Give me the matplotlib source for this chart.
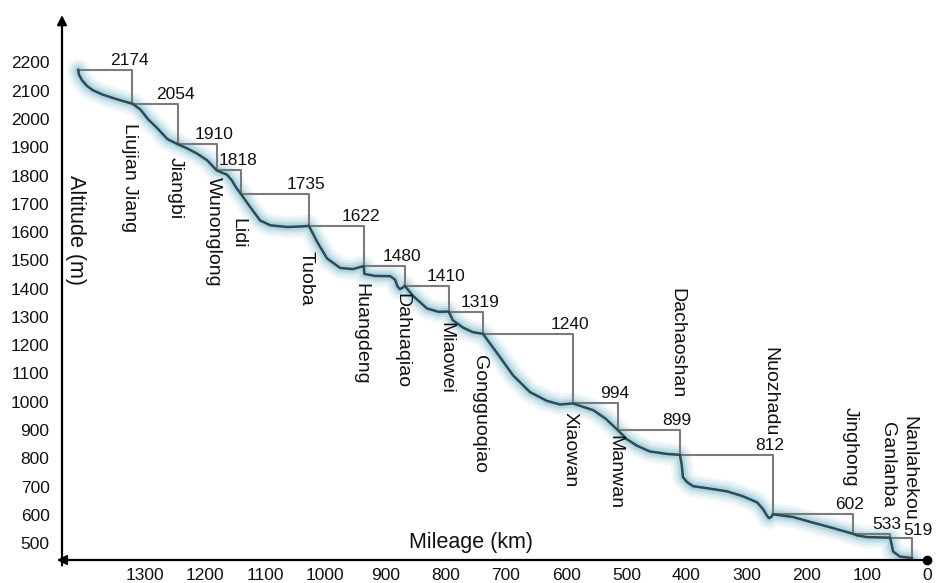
import numpy as np
import matplotlib
matplotlib.use("Agg")
import matplotlib.pyplot as plt

plt.rcParams['font.family'] = ['Liberation Sans', 'DejaVu Sans']

# dams, upstream -> downstream
dams = ['Liujian Jiang', 'Jiangbi', 'Wunonglong', 'Lidi', 'Tuoba', 'Huangdeng',
        'Dahuaqiao', 'Miaowei', 'Gongguoqiao', 'Xiaowan', 'Manwan', 'Dachaoshan',
        'Nuozhadu', 'Jinghong', 'Ganlanba', 'Nanlahekou']
dam_km = [1320, 1244, 1180, 1140, 1027, 936, 868, 795, 738, 589, 514, 411, 257, 124, 62, 26]
levels = [2174, 2054, 1910, 1818, 1735, 1622, 1480, 1410, 1319, 1240, 994, 899, 812, 602, 533, 519]

# river bed profile (km, altitude)
river_km = [1410, 1409, 1404, 1396, 1386, 1369, 1346, 1320,
            1307, 1294, 1279, 1262, 1244,
            1229, 1213, 1196, 1180,
            1163, 1155, 1148, 1140,
            1124, 1108, 1091, 1063, 1040, 1027,
            1013, 997, 975, 954, 936,
            935, 917, 892, 884, 880, 876, 871, 868,
            854, 831, 812, 795,
            788, 771, 755, 738,
            715, 688, 660, 632, 610, 589,
            555, 535, 514,
            499, 482, 461, 432, 411,
            408, 406, 399, 389, 366, 333, 307, 283, 273, 266, 263, 258, 257,
            223, 190, 157, 124,
            117, 100, 62,
            57, 46, 26]
river_alt = [2174, 2158, 2138, 2118, 2102, 2086, 2070, 2054,
             2034, 1999, 1968, 1929, 1910,
             1896, 1878, 1854, 1818,
             1803, 1783, 1758, 1735,
             1687, 1641, 1624, 1618, 1620, 1622,
             1564, 1507, 1473, 1469, 1480,
             1452, 1445, 1444, 1432, 1408, 1398, 1404, 1410,
             1374, 1330, 1318, 1319,
             1288, 1262, 1246, 1240,
             1173, 1093, 1034, 1003, 990, 994,
             970, 941, 899,
             867, 844, 824, 815, 812,
             776, 733, 715, 701, 694, 683, 666, 644, 620, 595, 588, 595, 602,
             592, 572, 553, 533,
             527, 521, 519,
             470, 452, 447]

x_ticks = list(range(0, 1301, 100))
y_ticks = list(range(500, 2201, 100))

# label layout (name top altitude)
name_top = [1986, 1866, 1795, 1650, 1533, 1420, 1385, 1282, 1165, 964, 882,
            1402, 1194, 982, 928, 949]

fig = plt.figure(figsize=(9.4, 5.83), dpi=100)
ax = fig.add_axes([62 / 940, 23 / 583, 873 / 940, 545 / 583])
ax.set_xlim(1437, -12.5)
ax.set_ylim(440, 2368)
for s in ax.spines.values():
    s.set_visible(False)

ax.set_xticks(x_ticks)
ax.set_yticks(y_ticks)
ax.tick_params(axis='both', length=0, labelsize=12.5, colors='#111111')
ax.tick_params(axis='y', pad=9)
ax.tick_params(axis='x', pad=6)

# glow of the river
for lw, a in [(16, 0.12), (12, 0.18), (8, 0.28), (5, 0.4)]:
    ax.plot(river_km, river_alt, color='#8cc4d4', lw=lw, alpha=a,
            solid_capstyle='round', solid_joinstyle='round', zorder=2)

# reservoir levels
start = river_km[0]
for i, (k, lv) in enumerate(zip(dam_km, levels)):
    low = levels[i + 1] if i + 1 < len(levels) else river_alt[-1]
    ax.plot([start, k, k], [lv, lv, low], color='#7b7b7b', lw=1.5, zorder=3)
    start = k

ax.plot(river_km, river_alt, color='#2e4b55', lw=1.8,
        solid_joinstyle='round', zorder=4)

for i, (k, lv) in enumerate(zip(dam_km, levels)):
    last = i == len(levels) - 1
    ax.annotate(str(lv), (k, lv), xytext=(6 if last else -3, 3 if last else 5),
                textcoords='offset pixels', ha='center', va='baseline',
                fontsize=12.5, color='#111111', zorder=5)
    ax.annotate(dams[i], (k, name_top[i]), xytext=(-3, 0), textcoords='offset pixels',
                rotation=-90, ha='center', va='top', fontsize=14, color='#111111', zorder=5)

# axes with arrows
ax.annotate('', xy=(-0.006, 0), xytext=(0.9914, 0), xycoords='axes fraction',
            arrowprops=dict(arrowstyle='-|>', color='black', lw=1.6,
                            mutation_scale=14, shrinkA=0, shrinkB=0), annotation_clip=False)
ax.annotate('', xy=(0, 1.0), xytext=(0, -0.01), xycoords='axes fraction',
            arrowprops=dict(arrowstyle='-|>', color='black', lw=1.6,
                            mutation_scale=14, shrinkA=0, shrinkB=0), annotation_clip=False)
ax.plot([0], [440], 'o', color='black', ms=6, clip_on=False, zorder=6)

fig.text(471 / 940, 1 - 548 / 583, 'Mileage (km)', ha='center', va='baseline',
         fontsize=15.5, color='#111111')
fig.text(75 / 940, 1 - 175 / 583, 'Altitude (m)', rotation=-90, ha='center', va='top',
         fontsize=15.5, color='#111111')

fig.savefig('out.png', dpi=100)
